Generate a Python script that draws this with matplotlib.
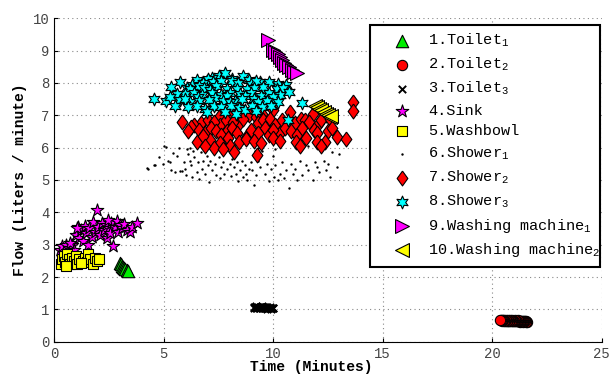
import matplotlib.pyplot as plt
from matplotlib.patches import Rectangle
import numpy as np

plt.rcParams['font.family'] = ['Liberation Mono', 'DejaVu Sans Mono']
plt.rcParams['mathtext.fontset'] = 'custom'
plt.rcParams['mathtext.rm'] = 'Liberation Mono'
plt.rcParams['mathtext.it'] = 'Liberation Mono'

# values (time in minutes, flow in l/min)
toilet1_x = [3.0, 3.05, 3.1, 3.15, 3.2, 3.25, 3.3, 3.35]
toilet1_y = [2.42, 2.4, 2.35, 2.32, 2.28, 2.25, 2.22, 2.2]

# recorded right to left
toilet2_x = [21.6, 21.55, 21.52, 21.48, 21.45, 21.42, 21.38, 21.35, 21.32, 21.28,
             21.25, 21.22, 21.18, 21.15, 21.12, 21.08, 21.05, 21.02, 20.98, 20.95,
             20.92, 20.88, 20.85, 20.82, 20.78, 20.75, 20.72, 20.68, 20.65, 20.62,
             20.58, 20.55, 20.52, 20.48, 20.45, 20.42, 20.38, 20.35]
toilet2_y = [0.62, 0.63, 0.61, 0.63, 0.64, 0.62, 0.64, 0.63, 0.65, 0.62,
             0.64, 0.65, 0.63, 0.66, 0.64, 0.65, 0.63, 0.66, 0.65, 0.64,
             0.66, 0.65, 0.63, 0.67, 0.65, 0.64, 0.66, 0.65, 0.64, 0.67,
             0.65, 0.66, 0.64, 0.66, 0.65, 0.67, 0.66, 0.67]

toilet3_x = [9.1, 9.13, 9.17, 9.2, 9.23, 9.27, 9.3, 9.33, 9.37, 9.4, 9.43, 9.47, 9.5,
             9.53, 9.57, 9.6, 9.63, 9.67, 9.7, 9.73, 9.77, 9.8, 9.83, 9.87, 9.9, 9.93,
             9.97, 10.0]
toilet3_y = [1.07, 1.04, 1.08, 1.05, 1.09, 1.03, 1.07, 1.05, 1.08, 1.04, 1.06, 1.09, 1.03,
             1.07, 1.05, 1.08, 1.04, 1.06, 1.02, 1.07, 1.05, 1.03, 1.06, 1.04, 1.02, 1.05,
             1.03, 1.04]

sink_x = [0.26, 0.35, 0.45, 0.53, 0.65, 0.8, 0.9, 1.0, 1.1, 1.15, 1.2, 1.3, 1.4, 1.45,
          1.55, 1.6, 1.7, 1.78, 1.85, 1.96, 2.0, 2.1, 2.2, 2.25, 2.35, 2.4, 2.5, 2.55,
          2.6, 2.69, 2.75, 2.85, 2.9, 3.0, 3.1, 3.2, 3.3, 3.46, 3.55, 3.79, 0.7, 1.05, 2.45]
sink_y = [2.84, 2.95, 2.75, 2.99, 2.9, 3.0, 2.85, 3.3, 3.56, 3.2, 3.45, 3.1, 3.59, 3.35,
          2.99, 3.5, 3.25, 3.71, 3.4, 4.07, 3.55, 3.3, 3.66, 3.45, 3.6, 3.2, 3.5, 3.35,
          3.68, 2.97, 3.55, 3.73, 3.4, 3.6, 3.5, 3.65, 3.45, 3.4, 3.55, 3.66, 3.05, 3.52, 3.75]

washbowl_x = [0.3, 0.35, 0.45, 0.5, 0.6, 0.65, 0.7, 0.8, 0.9, 1.0, 1.05, 1.15, 1.3, 1.4,
              1.5, 1.55, 1.65, 1.75, 1.85, 1.95, 2.05, 0.55, 1.2]
washbowl_y = [2.4, 2.55, 2.65, 2.45, 2.7, 2.55, 2.4, 2.6, 2.5, 2.65, 2.4, 2.55, 2.5, 2.6,
              2.45, 2.7, 2.55, 2.4, 2.6, 2.5, 2.55, 2.35, 2.42]

shower1_x = [4.25, 4.3, 4.55, 4.6, 4.8, 4.95, 5.1, 5.2, 5.28, 5.35, 5.4, 5.5, 5.6, 5.74,
             5.84, 5.7, 5.9, 5.95, 6.0, 6.05, 6.1, 6.2, 6.25, 6.3, 6.35, 6.4, 6.5, 6.55,
             6.6, 6.7, 6.75, 6.8, 6.9, 6.95, 7.0, 7.05, 7.1, 7.2, 7.3, 7.35, 7.4, 7.5,
             7.55, 7.6, 7.7, 7.75, 7.8, 7.9, 8.0, 8.05, 8.1, 8.2, 8.3, 8.35, 8.4, 8.5,
             8.55, 8.6, 8.7, 8.75, 8.8, 8.9, 9.0, 9.05, 9.1, 9.2, 9.3, 9.4, 9.5, 9.6,
             9.7, 9.8, 9.9, 10.0, 10.05, 10.1, 10.2, 10.3, 10.4, 10.5, 10.6, 10.7, 10.8,
             10.9, 11.0, 11.1, 11.2, 11.3, 11.5, 11.6, 11.8, 11.9, 12.0, 12.1, 12.3,
             12.4, 12.5, 12.6, 12.7, 12.9, 13.0, 9.3, 10.1, 11.6, 6.2, 5.0, 9.15]
shower1_y = [5.36, 5.35, 5.45, 5.46, 5.72, 5.5, 6.03, 5.6, 5.57, 5.3, 5.84, 5.25, 5.75, 5.29,
             5.27, 6.0, 5.55, 5.35, 5.15, 5.95, 5.8, 5.6, 5.45, 5.1, 5.9, 5.7, 5.25, 5.55,
             5.02, 5.85, 5.35, 5.6, 5.2, 5.75, 5.45, 4.95, 5.6, 5.3, 5.85, 5.5, 5.15, 5.7,
             5.05, 5.4, 5.55, 5.2, 5.9, 5.35, 5.5, 5.12, 5.65, 5.4, 5.2, 5.55, 4.98, 5.3,
             5.6, 5.1, 5.45, 5.2, 5.0, 5.35, 5.55, 5.3, 4.85, 5.15, 5.6, 5.4, 5.9, 5.2,
             5.5, 4.98, 5.35, 5.75, 5.1, 5.45, 5.0, 5.2, 5.55, 5.05, 5.3, 4.75, 5.5,
             5.2, 5.35, 5.0, 5.6, 5.15, 5.45, 5.3, 5.0, 5.55, 5.4, 5.25, 5.6,
             5.3, 5.5, 5.1, 5.85, 5.4, 5.8, 6.0, 5.95, 6.05, 6.0, 6.05, 5.9]

shower2_x = [8.1, 8.9, 10.0, 10.75, 9.5, 7.5, 11.8, 12.4, 13.65, 13.65, 9.2,
             5.85, 6.7, 7.0, 7.55, 7.85, 8.4, 8.6, 9.3, 9.55, 9.85, 10.1, 10.4, 11.0,
             11.25, 11.45, 11.65, 12.1, 12.2, 12.6, 7.3, 8.15, 6.4,
             6.25, 6.6, 6.9, 7.15, 7.4, 7.9, 8.1, 8.35, 8.8, 9.0, 9.6, 9.8, 10.3, 10.55,
             10.8, 11.1, 11.3, 11.85, 12.0, 12.5, 12.7, 6.1, 7.6, 9.3, 10.0,
             6.5, 7.1, 7.55, 7.95, 8.45, 8.75, 9.1, 9.45, 10.0, 10.3, 11.05, 11.5, 12.0,
             12.35, 12.9, 13.3, 6.8, 11.2, 12.2, 8.0, 7.3,
             8.22, 9.24, 7.7, 6.9]
shower2_y = [7.0, 7.0, 7.16, 7.11, 7.05, 6.95, 7.05, 7.0, 7.42, 7.12, 6.95,
             6.8, 6.75, 6.85, 6.7, 6.85, 6.7, 6.9, 6.75, 6.85, 6.9, 6.7, 6.85, 6.75,
             6.9, 6.86, 6.8, 6.75, 6.85, 6.9, 6.8, 6.8, 6.7,
             6.65, 6.55, 6.45, 6.6, 6.5, 6.5, 6.6, 6.45, 6.35, 6.55, 6.6, 6.4, 6.45, 6.6,
             6.5, 6.4, 6.6, 6.55, 6.45, 6.5, 6.6, 6.5, 6.4, 6.45, 6.55,
             6.18, 6.25, 6.13, 6.3, 6.18, 6.28, 6.2, 6.13, 6.3, 6.2, 6.18, 6.3, 6.18,
             6.18, 6.33, 6.26, 6.35, 6.05, 6.05, 6.05, 6.0,
             5.88, 5.77, 5.95, 6.05]

shower3_x = [7.5, 7.8, 8.6, 7.2, 8.1, 8.9, 6.5, 7.0,
             5.75, 6.3, 6.8, 7.25, 7.6, 8.1, 8.4, 9.0, 9.4, 9.8, 9.2, 10.2, 10.6,
             5.35, 6.05, 6.6, 6.85, 7.4, 7.9, 8.35, 8.8, 9.55, 10.15, 10.45, 6.2, 7.1, 9.1,
             5.95, 6.4, 6.75, 7.2, 7.6, 8.0, 8.5, 9.0, 9.45, 9.8, 10.3, 10.7, 5.6, 7.9,
             8.7, 10.0, 6.55, 7.35,
             4.55, 5.1, 5.3, 5.75, 6.2, 6.6, 7.05, 7.7, 8.25, 8.55, 9.1, 9.3, 9.7, 10.2,
             11.3, 8.0, 5.95,
             5.5, 6.1, 6.5, 6.9, 7.3, 7.6, 8.05, 8.45, 8.7, 9.05, 9.5, 9.9, 6.95, 7.8,
             8.3, 9.2, 10.65]
shower3_y = [8.22, 8.3, 8.2, 8.15, 8.12, 8.1, 8.08, 8.12,
             8.02, 7.95, 8.0, 8.04, 8.05, 8.05, 8.0, 7.97, 8.02, 8.02, 8.05, 7.98, 7.95,
             7.88, 7.85, 7.9, 7.85, 7.9, 7.82, 7.82, 7.82, 7.88, 7.81, 7.85, 7.8, 7.78, 7.85,
             7.66, 7.7, 7.62, 7.68, 7.63, 7.7, 7.65, 7.7, 7.6, 7.7, 7.62, 7.72, 7.65, 7.6,
             7.6, 7.55, 7.55, 7.52,
             7.5, 7.45, 7.55, 7.46, 7.42, 7.45, 7.47, 7.45, 7.44, 7.5, 7.5, 7.42, 7.45, 7.4,
             7.37, 7.4, 7.5,
             7.3, 7.25, 7.3, 7.2, 7.3, 7.25, 7.28, 7.22, 7.16, 7.3, 7.25, 7.3, 7.1, 7.1,
             7.05, 7.12, 6.85]

wm1_x = [9.77, 10.0, 10.1, 10.2, 10.3, 10.4, 10.5, 10.6, 10.7, 10.85, 10.95, 11.07]
wm1_y = [9.33, 9.02, 8.95, 8.88, 8.8, 8.72, 8.63, 8.55, 8.48, 8.4, 8.35, 8.3]

wm2_x = [11.9, 12.0, 12.1, 12.2, 12.3, 12.4, 12.5, 12.6, 12.65]
wm2_y = [7.3, 7.25, 7.2, 7.15, 7.1, 7.05, 7.0, 6.95, 6.98]

labels = [r'1.Toilet$_1$', r'2.Toilet$_2$', r'3.Toilet$_3$', '4.Sink', '5.Washbowl',
          r'6.Shower$_1$', r'7.Shower$_2$', r'8.Shower$_3$',
          r'9.Washing machine$_1$', r'10.Washing machine$_2$']

tall_diamond = [(0, 1), (0.72, 0), (0, -1), (-0.72, 0), (0, 1)]
hexagram = (6, 1, 0)

fig = plt.figure(figsize=(6.1, 3.77), dpi=100)
ax = fig.add_axes([0.089, 0.0936, 0.8976, 0.858])

ek = dict(edgecolors='black', linewidths=0.8)
ax.scatter(toilet1_x, toilet1_y, marker='^', s=80, c='#00ee00', label=labels[0], **ek)
ax.scatter(toilet2_x, toilet2_y, marker='o', s=55, c='red', label=labels[1], **ek)
ax.scatter(toilet3_x, toilet3_y, marker='x', s=28, c='black', linewidths=1.4, label=labels[2])
ax.scatter(sink_x, sink_y, marker='*', s=90, c='#ff00ff', label=labels[3], **ek)
ax.scatter(washbowl_x, washbowl_y, marker='s', s=60, c='#ffff00', label=labels[4], **ek)
ax.scatter(shower1_x, shower1_y, marker='o', s=3, c='black', linewidths=0, label=labels[5])
ax.scatter(shower2_x, shower2_y, marker=tall_diamond, s=115, c='red', label=labels[6], **ek)
ax.scatter(shower3_x, shower3_y, marker=hexagram, s=85, c='#00ffff', label=labels[7], **ek)
ax.scatter(wm1_x, wm1_y, marker='>', s=100, c='#ff00ff', label=labels[8], **ek)
ax.scatter(wm2_x, wm2_y, marker='<', s=100, c='#ffff00', label=labels[9], **ek)

ax.set_xlim(0, 25)
ax.set_ylim(0, 10)
ax.set_xticks(np.arange(0, 26, 5))
ax.set_yticks(np.arange(0, 11, 1))
ax.grid(True, linestyle=(0, (1, 3)), color='#888888', linewidth=0.8)
ax.set_axisbelow(True)
for side in ['top', 'right']:
    ax.spines[side].set_visible(False)
ax.tick_params(direction='in', labelsize=10, labelcolor='#444444', length=3)

ax.set_xlabel('Time (Minutes)', fontsize=10.5, fontweight='bold', labelpad=1)
ax.xaxis.set_label_coords(0.469, -0.058)
ax.set_ylabel('Flow (Liters / minute)', fontsize=10.5, fontweight='bold', labelpad=4)

# legend box drawn separately so the marker column sits where it does in the original
box = Rectangle((0.5766, 0.231), 0.4201, 0.748, transform=ax.transAxes,
                facecolor='white', edgecolor='black', linewidth=1.5,
                clip_on=False, zorder=4)
ax.add_patch(box)
leg = ax.legend(loc='upper left', bbox_to_anchor=(0.607, 0.958), borderaxespad=0,
                borderpad=0, frameon=False, fontsize=11, labelspacing=0.43,
                handlelength=2.0, handletextpad=0.7, scatterpoints=1)
leg.set_zorder(5)

fig.savefig('out.png', dpi=100)
